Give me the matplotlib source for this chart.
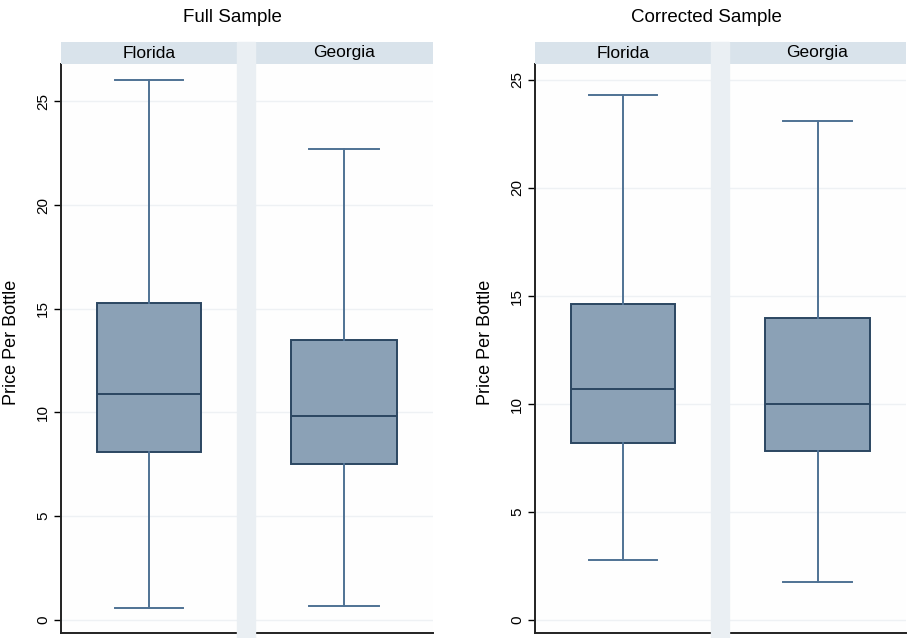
import matplotlib
matplotlib.use("Agg")
import matplotlib.pyplot as plt
from matplotlib.patches import Rectangle

plt.rcParams["font.family"] = ["Liberation Sans", "DejaVu Sans"]

# data
sample_titles = ["Full Sample", "Corrected Sample"]
states = ["Florida", "Georgia"]
y_label = "Price Per Bottle"
y_ticks = [0, 5, 10, 15, 20, 25]

full_whislo = [0.56, 0.69]
full_q1 = [8.11, 7.52]
full_med = [10.88, 9.83]
full_q3 = [15.29, 13.49]
full_whishi = [26.02, 22.68]

corr_whislo = [2.78, 1.77]
corr_q1 = [8.18, 7.84]
corr_med = [10.69, 9.99]
corr_q3 = [14.63, 13.97]
corr_whishi = [24.3, 23.12]

samples = [
    (full_whislo, full_q1, full_med, full_q3, full_whishi),
    (corr_whislo, corr_q1, corr_med, corr_q3, corr_whishi),
]

# layout (pixels)
W, H = 910, 638
fig = plt.figure(figsize=(W / 100, H / 100), dpi=100)
fig.patch.set_facecolor("white")

panel_x = [[(61, 237), (255, 433)], [(535, 711), (729, 906)]]
ylims = [(-0.63, 26.8), (-0.6, 25.74)]
title_x = [232, 706]
ylabel_x = [12, 486]
strip_top, plot_top, plot_bot = 42, 64, 633

fill_col = "#8ba1b6"
edge_col = "#2b4661"
whisk_col = "#4f7294"
strip_col = "#d9e3eb"
gap_col = "#eaeff3"
grid_col = "#eef1f4"


def fx(px):
    return px / W


def fy(py):
    return 1 - py / H


for s, (whislo, q1, med, q3, whishi) in enumerate(samples):
    (l0, r0), (l1, r1) = panel_x[s]
    # light band between the two panels
    fig.patches.append(Rectangle((fx(r0), 0), fx(l1) - fx(r0), fy(strip_top),
                                 transform=fig.transFigure, color=gap_col, zorder=0))
    fig.text(fx(title_x[s]), fy(17), sample_titles[s], ha="center", va="center", fontsize=13.5)

    for i, state in enumerate(states):
        l, r = panel_x[s][i]
        ax = fig.add_axes([fx(l), fy(plot_bot), fx(r) - fx(l), fy(plot_top) - fy(plot_bot)])
        ax.set_facecolor("#fefefe")
        stats = [dict(whislo=whislo[i], q1=q1[i], med=med[i], q3=q3[i],
                      whishi=whishi[i], fliers=[], label=state)]
        ax.bxp(stats, positions=[1], widths=0.59, capwidths=0.39, showfliers=False,
               patch_artist=True,
               boxprops=dict(facecolor=fill_col, edgecolor=edge_col, linewidth=1.4),
               medianprops=dict(color=edge_col, linewidth=1.4),
               whiskerprops=dict(color=whisk_col, linewidth=1.4),
               capprops=dict(color=whisk_col, linewidth=1.4))
        ax.set_xlim(0.5, 1.5)
        ax.set_ylim(*ylims[s])
        ax.set_xticks([])
        ax.set_yticks(y_ticks)
        ax.grid(axis="y", color=grid_col, linewidth=1)
        ax.set_axisbelow(True)
        for side in ["top", "right"]:
            ax.spines[side].set_visible(False)
        ax.spines["bottom"].set_color("#222222")
        ax.spines["bottom"].set_linewidth(1.4)
        if i == 0:
            ax.spines["left"].set_color("#222222")
            ax.spines["left"].set_linewidth(1.4)
            ax.tick_params(axis="y", length=5, width=1, labelsize=11, pad=3)
            for lab in ax.get_yticklabels():
                lab.set_rotation(90)
                lab.set_va("center")
        else:
            ax.spines["left"].set_visible(False)
            ax.tick_params(axis="y", length=0, labelleft=False)
        # strip header
        sax = fig.add_axes([fx(l), fy(plot_top), fx(r) - fx(l), fy(strip_top) - fy(plot_top)])
        sax.set_facecolor(strip_col)
        sax.set_xticks([])
        sax.set_yticks([])
        for sp in sax.spines.values():
            sp.set_visible(False)
        sax.text(0.5, 0.5, state, ha="center", va="center", fontsize=12.5, transform=sax.transAxes)

    fig.text(fx(ylabel_x[s]), fy(342), y_label, rotation=90, ha="center", va="center", fontsize=13)

fig.savefig("out.png", dpi=100)
